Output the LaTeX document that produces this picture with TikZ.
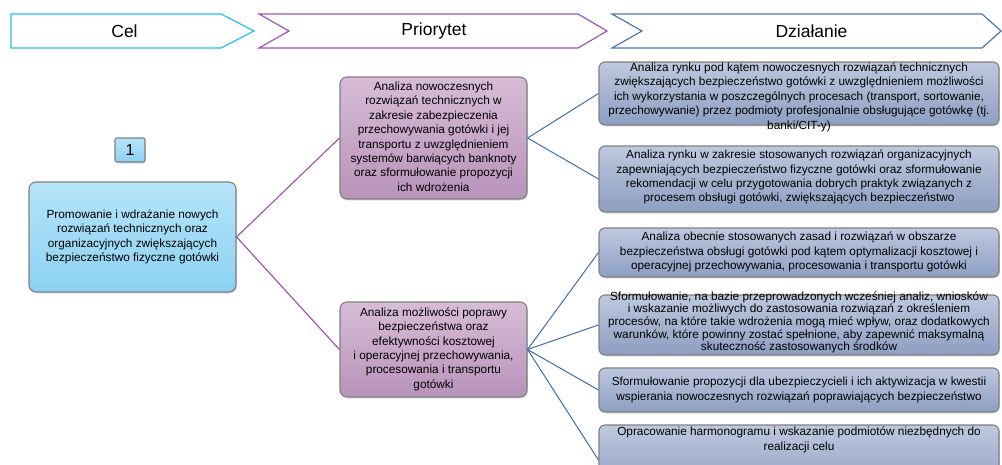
\documentclass[tikz,border=0pt]{standalone}
\usepackage{fontspec}
\setmainfont{Liberation Sans}
\usetikzlibrary{shadows}
\definecolor{cyanH}{HTML}{1FC3EE}
\definecolor{purpH}{HTML}{A355B2}
\definecolor{blueH}{HTML}{4A78B0}
\definecolor{goalT}{HTML}{B6E4F9}
\definecolor{goalB}{HTML}{8CD2F3}
\definecolor{prioT}{HTML}{D7BCD7}
\definecolor{prioB}{HTML}{B893BA}
\definecolor{actT}{HTML}{BEC9DF}
\definecolor{actB}{HTML}{8D9EC1}
\definecolor{edgeG}{HTML}{808080}
\definecolor{lnP}{HTML}{9B4DA8}
\definecolor{lnB}{HTML}{3F6EA8}
\newcommand\bxt[2][-3pt]{\raisebox{#1}[0pt][0pt]{\begin{tabular}{@{}c@{}}#2\end{tabular}}}
\tikzset{
  box/.style={draw=edgeG, line width=1.1pt, rounded corners=7pt, inner sep=0pt,
    font=\fontsize{11.8}{14.4}\selectfont,
    drop shadow={opacity=0.25, shadow xshift=0.8pt, shadow yshift=-1.5pt}},
  goalbox/.style={box, top color=goalT, bottom color=goalB},
  priobox/.style={box, top color=prioT, bottom color=prioB},
  actbox/.style={box, rounded corners=6pt, top color=actT, bottom color=actB, minimum width=400pt},
  numbox/.style={box, rounded corners=2pt, top color=goalT, bottom color=goalB, font=\fontsize{16}{18}\selectfont},
  chev/.style={line width=1.2pt, fill=white},
  head/.style={font=\fontsize{17.5}{20}\selectfont, inner sep=0pt},
  linkP/.style={draw=lnP, line width=1.1pt},
  linkB/.style={draw=lnB, line width=1pt}
}
\begin{document}
\begin{tikzpicture}[x=1pt,y=-1pt]
\useasboundingbox (0,0) rectangle (1002,464);
\clip (0,0) rectangle (1002,464);
% header chevrons
\draw[chev, draw=cyanH] (11,14) -- (221,14) -- (254,31) -- (221,48) -- (11,48) -- cycle;
\node[head] (hcel) at (124.5,31) {Cel};
\draw[chev, draw=purpH] (259,14) -- (578,14) -- (607,31) -- (578,48) -- (259,48) -- (289,31) -- cycle;
\node[head] (hprio) at (434,31) {Priorytet};
\draw[chev, draw=blueH] (612,14) -- (982,14) -- (1001,31) -- (982,48) -- (612,48) -- (642,31) -- cycle;
\node[head] (hdz) at (811.5,31) {Działanie};

% number
\node[numbox, minimum width=30pt, minimum height=24pt] (num) at (130,150) {\raisebox{-5pt}[0pt][0pt]{1}};

% goal
\node[goalbox, minimum width=207pt, minimum height=110pt] (g) at (132.5,237)
 {\bxt{Promowanie i wdrażanie nowych\\ rozwiązań technicznych oraz\\ organizacyjnych zwiększających\\ bezpieczeństwo fizyczne gotówki}};

% priorities
\node[priobox, minimum width=187pt, minimum height=122pt] (p1) at (433.5,138)
 {\bxt{Analiza nowoczesnych\\ rozwiązań technicznych w\\ zakresie zabezpieczenia\\ przechowywania gotówki i jej\\ transportu z uwzględnieniem\\ systemów barwiących banknoty\\ oraz sformułowanie propozycji\\ ich wdrożenia}};
\node[priobox, minimum width=187pt, minimum height=95pt] (p2) at (433.5,349.5)
 {\bxt{Analiza możliwości poprawy\\ bezpieczeństwa oraz\\ efektywności kosztowej\\ i operacyjnej przechowywania,\\ procesowania i transportu\\ gotówki}};

% actions
\node[actbox, minimum height=63pt] (a1) at (799,93.5)
 {\bxt[-7pt]{Analiza rynku pod kątem nowoczesnych rozwiązań technicznych\\ zwiększających bezpieczeństwo gotówki z uwzględnieniem możliwości\\ ich wykorzystania w poszczególnych procesach (transport, sortowanie,\\ przechowywanie) przez podmioty profesjonalnie obsługujące gotówkę (tj.\\ banki/CIT-y)}};
\node[actbox, minimum height=66pt] (a2) at (799,179)
 {\bxt[-1.5pt]{Analiza rynku w zakresie stosowanych rozwiązań organizacyjnych\\ zapewniających bezpieczeństwo fizyczne gotówki oraz sformułowanie\\ rekomendacji w celu przygotowania dobrych praktyk związanych z\\ procesem obsługi gotówki, zwiększających bezpieczeństwo}};
\node[actbox, minimum height=49pt] (a3) at (799,252.5)
 {\bxt{Analiza obecnie stosowanych zasad i rozwiązań w obszarze\\ bezpieczeństwa obsługi gotówki pod kątem optymalizacji kosztowej i\\ operacyjnej przechowywania, procesowania i transportu gotówki}};
\node[actbox, minimum height=60pt, font=\fontsize{11.8}{12.6}\selectfont] (a4) at (799,325)
 {\bxt[-1pt]{Sformułowanie, na bazie przeprowadzonych wcześniej analiz, wniosków\\ i wskazanie możliwych do zastosowania rozwiązań z określeniem\\ procesów, na które takie wdrożenia mogą mieć wpływ, oraz dodatkowych\\ warunków, które powinny zostać spełnione, aby zapewnić maksymalną\\ skuteczność zastosowanych środków}};
\node[actbox, minimum height=44pt] (a5) at (799,390)
 {\bxt{Sformułowanie propozycji dla ubezpieczycieli i ich aktywizacja w kwestii\\ wspierania nowoczesnych rozwiązań poprawiających bezpieczeństwo}};
\node[actbox, minimum height=70pt] (a6) at (799,460)
 {\bxt[17pt]{Opracowanie harmonogramu i wskazanie podmiotów niezbędnych do\\ realizacji celu}};

% connectors
\draw[linkP] (g.east) -- (p1.west);
\draw[linkP] (g.east) -- (p2.west);
\draw[linkB] (p1.east) -- (a1.west);
\draw[linkB] (p1.east) -- (a2.west);
\draw[linkB] (p2.east) -- (a3.west);
\draw[linkB] (p2.east) -- (a4.west);
\draw[linkB] (p2.east) -- (a5.west);
\draw[linkB] (p2.east) -- (a6.west);
\end{tikzpicture}
\end{document}
